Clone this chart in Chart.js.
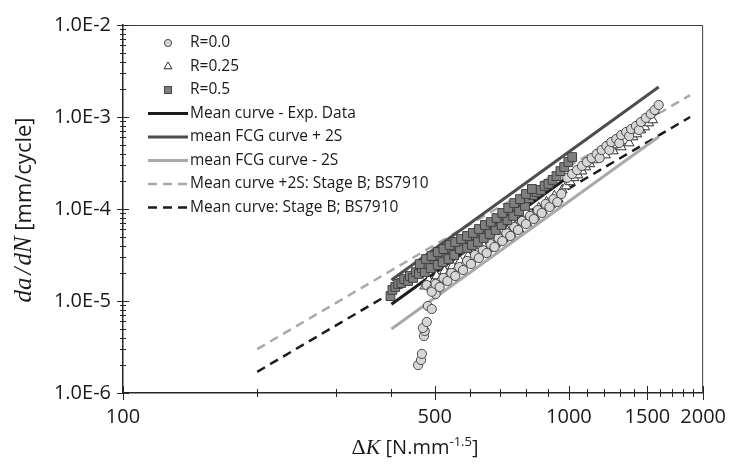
<!DOCTYPE html>
<html>
<head>
<meta charset="utf-8">
<script src="https://cdn.jsdelivr.net/npm/chart.js@4.4.1/dist/chart.umd.min.js"></script>
<style>
  html, body { margin: 0; padding: 0; background: #fff; }
  #wrap { width: 738px; height: 466px; }
</style>
</head>
<body>
<div id="wrap"><canvas id="fcg" width="738" height="466"></canvas></div>
<script>
// Crack growth rate da/dN (mm/cycle) against stress intensity range dK (N.mm^-1.5)

// R = 0.0 specimens
const r00DeltaK = [
  459, 466, 468, 473, 475, 470.5, 480, 482.6, 492.5, 480, 492.5, 502.5,
  492.5, 502.5, 513, 523, 534, 545, 556, 567.5, 579, 591, 603, 615.5, 628, 641, 654, 667.5,
  681, 695, 709, 724, 739, 754, 769, 785, 801, 818, 834, 851.5, 869, 887, 905, 923.5, 942, 961.6,
  991.5, 1017, 1043, 1070, 1097, 1125, 1154, 1172, 1184, 1214, 1232, 1245, 1277, 1297, 1310,
  1344, 1365, 1379, 1414, 1436, 1451, 1488, 1526, 1557, 1590
];
const r00Rate = [
  2.01e-6, 2.28e-6, 2.66e-6, 4.16e-6, 4.72e-6, 5.09e-6, 5.92e-6, 8.83e-6, 8.18e-6, 1.49e-5, 1.32e-5, 1.19e-5,
  1.26e-5, 1.53e-5, 1.42e-5, 1.78e-5, 1.65e-5, 2.02e-5, 1.87e-5, 2.34e-5, 2.17e-5, 2.72e-5, 2.52e-5, 3.16e-5, 2.93e-5, 3.58e-5, 3.32e-5, 4.16e-5,
  3.86e-5, 4.84e-5, 4.49e-5, 5.49e-5, 5.09e-5, 6.37e-5, 5.91e-5, 7.40e-5, 6.87e-5, 8.40e-5, 7.78e-5, 9.75e-5, 9.05e-5, 1.133e-4, 1.051e-4, 1.28e-4, 1.19e-4, 1.456e-4,
  2.18e-4, 2.40e-4, 2.65e-4, 2.94e-4, 3.24e-4, 3.58e-4, 3.96e-4, 3.58e-4, 4.38e-4, 4.84e-4, 4.38e-4, 5.35e-4, 5.76e-4, 5.21e-4, 6.37e-4,
  6.87e-4, 6.21e-4, 7.40e-4, 7.98e-4, 7.22e-4, 8.83e-4, 9.76e-4, 1.078e-3, 1.192e-3, 1.35e-3
];

// R = 0.25 specimens
const r025DeltaK = [
  475, 485, 495, 505, 515.5, 526, 537, 548, 559, 570, 582, 594, 606, 619, 631, 644, 657, 671, 685, 699,
  713, 728, 742.5, 758, 773, 789, 805, 822, 839, 856, 873, 891, 909.5, 928, 947, 966.5, 986, 1007, 1027, 1048,
  1070, 1091, 1114, 1136, 1160, 1184, 1208, 1232, 1258, 1284, 1310, 1337, 1365, 1393, 1421, 1451, 1480, 1511, 1542
];
const r025Rate = [
  1.45e-5, 1.69e-5, 1.57e-5, 1.87e-5, 1.73e-5, 2.12e-5, 1.97e-5, 2.40e-5, 2.22e-5, 2.72e-5, 2.52e-5, 3.08e-5, 2.86e-5, 3.49e-5, 3.24e-5, 3.96e-5, 3.67e-5, 4.49e-5, 4.16e-5, 5.09e-5,
  4.72e-5, 5.76e-5, 5.35e-5, 6.53e-5, 6.06e-5, 7.59e-5, 7.04e-5, 8.83e-5, 8.19e-5, 1.025e-4, 9.51e-5, 1.19e-4, 1.105e-4, 1.385e-4, 1.28e-4, 1.61e-4, 1.775e-4, 1.97e-4, 2.18e-4, 2.34e-4,
  2.58e-4, 2.86e-4, 3.09e-4, 3.41e-4, 3.67e-4, 4.06e-4, 3.86e-4, 4.49e-4, 4.27e-4, 4.96e-4, 4.72e-4, 5.48e-4, 5.21e-4, 6.06e-4, 6.53e-4, 7.22e-4, 7.78e-4, 8.60e-4, 9.28e-4
];

// R = 0.5 specimens
const r05DeltaK = [
  398, 402, 408, 414, 421, 427, 436, 440, 447, 454, 461, 468, 475, 483, 490, 497, 508, 513, 521, 529,
  537, 545, 553, 562, 570, 579, 591, 597, 606, 616, 625, 635, 644, 654, 664, 674, 685, 695, 706, 717,
  728, 739, 750, 762, 773, 785, 797, 814, 830, 847, 865, 882, 900, 919, 938, 957, 976, 997, 1017,
  463, 478, 492, 508, 523, 540, 556, 573, 591, 609, 628, 648, 668, 688, 709, 731, 754, 777, 801, 826
];
const r05Rate = [
  1.13e-5, 1.32e-5, 1.42e-5, 1.53e-5, 1.57e-5, 1.73e-5, 1.65e-5, 1.87e-5, 1.78e-5, 2.06e-5, 1.97e-5, 2.28e-5, 2.06e-5, 2.52e-5, 2.28e-5, 2.86e-5, 2.46e-5, 3.16e-5, 2.65e-5, 3.67e-5,
  2.86e-5, 3.77e-5, 3.16e-5, 4.06e-5, 3.67e-5, 4.49e-5, 3.77e-5, 4.84e-5, 4.06e-5, 5.22e-5, 4.38e-5, 5.76e-5, 4.84e-5, 6.37e-5, 5.35e-5, 7.04e-5, 5.91e-5, 7.78e-5, 6.70e-5, 8.61e-5,
  7.59e-5, 9.75e-5, 8.40e-5, 1.08e-4, 9.51e-5, 1.22e-4, 1.08e-4, 1.31e-4, 1.42e-4, 1.53e-4, 1.61e-4, 1.78e-4, 1.87e-4, 2.07e-4, 2.28e-4, 2.58e-4, 2.86e-4, 3.24e-4, 3.67e-4,
  2.52e-5, 2.86e-5, 3.08e-5, 3.41e-5, 3.67e-5, 4.06e-5, 4.38e-5, 4.72e-5, 5.09e-5, 5.49e-5, 6.06e-5, 6.70e-5, 7.22e-5, 7.98e-5, 9.05e-5, 1.025e-4, 1.16e-4, 1.28e-4, 1.456e-4, 1.65e-4
];

// Fitted Paris-law lines (end points)
const meanExpK = [400, 1590];
const meanExpRate = [9.2e-6, 1.14e-3];
const plus2SK = [400, 1590];
const plus2SRate = [1.69e-5, 2.12e-3];
const minus2SK = [400, 1590];
const minus2SRate = [4.97e-6, 6.1e-4];
const bsPlus2SK = [200, 1870];
const bsPlus2SRate = [3.0e-6, 1.73e-3];
const bsMeanK = [200, 1870];
const bsMeanRate = [1.7e-6, 1.0e-3];

// Axis ticks
const xMajorTicks = [100, 500, 1000, 1500, 2000];
const xTickLabels = ['100', '500', '1000', '1500', '2000'];
const yMajorTicks = [1e-6, 1e-5, 1e-4, 1e-3, 1e-2];
const yTickLabels = ['1.0E-6', '1.0E-5', '1.0E-4', '1.0E-3', '1.0E-2'];

const pts = (xs, ys) => xs.map((v, i) => ({ x: v, y: ys[i] }));

// every 100 from 100 to 2000, labels only on the majors
const xTicks = [];
for (let v = 100; v <= 2000; v += 100) xTicks.push(v);
// 1..9 in each decade
const yTicks = [];
yMajorTicks.forEach((d, i) => {
  yTicks.push(d);
  if (i < yMajorTicks.length - 1) for (let m = 2; m <= 9; m++) yTicks.push(m * d);
});

const TXT = '#1a1a1a';
const SANS = '"Open Sans", "Noto Sans", sans-serif';
const SERIF = '"Liberation Serif", "DejaVu Serif", serif';

const lineSet = (label, xs, ys, color, width, dash, order) => ({
  label, data: pts(xs, ys), showLine: true, pointRadius: 0,
  borderColor: color, borderWidth: width, borderDash: dash, order
});

// frame on top / right of the plot area
const frame = {
  id: 'frame',
  beforeDatasetsDraw(chart) {
    const { ctx, chartArea: a } = chart;
    ctx.save();
    ctx.strokeStyle = '#3a3a3a';
    ctx.lineWidth = 1;
    ctx.beginPath();
    ctx.moveTo(a.left, a.top + 0.5);
    ctx.lineTo(a.right - 0.5, a.top + 0.5);
    ctx.lineTo(a.right - 0.5, a.bottom);
    ctx.stroke();
    ctx.restore();
  }
};

// tick marks crossing both axes
const tickMarks = {
  id: 'tickMarks',
  afterDatasetsDraw(chart) {
    const { ctx, chartArea: a, scales: { x, y } } = chart;
    ctx.save();
    ctx.strokeStyle = '#262626';
    ctx.lineWidth = 1;
    ctx.beginPath();
    x.ticks.forEach(t => {
      const px = Math.round(x.getPixelForValue(t.value)) + 0.5;
      const len = xMajorTicks.includes(t.value) ? 7 : 4;
      ctx.moveTo(px, a.bottom - len);
      ctx.lineTo(px, a.bottom + len);
    });
    y.ticks.forEach(t => {
      const py = Math.round(y.getPixelForValue(t.value)) + 0.5;
      const len = yMajorTicks.includes(t.value) ? 6 : 3;
      ctx.moveTo(a.left - len, py);
      ctx.lineTo(a.left + len, py);
    });
    ctx.stroke();
    ctx.restore();
  }
};

// legend in the upper left corner of the plot
const legendMarkerRadius = { circle: 3.6, triangle: 4.6, rect: 5 };
const legendBox = {
  id: 'legendBox',
  afterDraw(chart) {
    const ctx = chart.ctx;
    const top = 43, step = 23.5, mx = 168, lx0 = 148, lx1 = 188, tx = 190;
    ctx.save();
    ctx.font = '15.5px ' + SANS;
    ctx.textBaseline = 'middle';
    chart.data.datasets.forEach((ds, i) => {
      const yy = top + i * step;
      if (ds.showLine) {
        ctx.strokeStyle = ds.borderColor;
        ctx.lineWidth = ds.borderWidth;
        ctx.setLineDash(ds.borderDash || []);
        ctx.beginPath();
        ctx.moveTo(lx0, yy);
        ctx.lineTo(lx1, yy);
        ctx.stroke();
        ctx.setLineDash([]);
      } else {
        ctx.fillStyle = ds.backgroundColor;
        ctx.strokeStyle = ds.borderColor;
        ctx.lineWidth = 1;
        Chart.helpers.drawPoint(ctx, {
          pointStyle: ds.pointStyle, rotation: 0,
          radius: legendMarkerRadius[ds.pointStyle], borderWidth: 1
        }, mx, yy);
      }
      ctx.fillStyle = TXT;
      ctx.fillText(ds.label, tx, yy);
    });
    ctx.restore();
  }
};

// draws a run of text pieces with their own fonts, centred on 0
function drawRuns(ctx, runs) {
  let total = 0;
  runs.forEach(r => { ctx.font = r.font; r.w = ctx.measureText(r.text).width; total += r.w + (r.gap || 0); });
  let x = -total / 2;
  runs.forEach(r => {
    ctx.font = r.font;
    ctx.fillText(r.text, x, r.rise ? -r.rise : 0);
    x += r.w + (r.gap || 0);
  });
}

const axisTitles = {
  id: 'axisTitles',
  afterDraw(chart) {
    const ctx = chart.ctx;
    ctx.save();
    ctx.fillStyle = TXT;
    ctx.textBaseline = 'alphabetic';
    ctx.textAlign = 'left';

    // y title, reading upwards
    ctx.save();
    ctx.translate(31, 210);
    ctx.rotate(-Math.PI / 2);
    drawRuns(ctx, [
      { text: 'da', font: 'italic 25px ' + SERIF, gap: 3 },
      { text: '/', font: 'italic 25px ' + SERIF, gap: 2 },
      { text: 'dN', font: 'italic 25px ' + SERIF, gap: 0 },
      { text: ' [mm/cycle]', font: '22px ' + SANS }
    ]);
    ctx.restore();

    // x title
    ctx.save();
    ctx.translate(415, 454);
    drawRuns(ctx, [
      { text: '\u0394', font: '22px ' + SERIF },
      { text: 'K', font: 'italic 22px ' + SERIF },
      { text: ' [N.mm', font: '20px ' + SANS },
      { text: '-1.5', font: '13px ' + SANS, rise: 8 },
      { text: ']', font: '20px ' + SANS }
    ]);
    ctx.restore();
    ctx.restore();
  }
};

new Chart(document.getElementById('fcg'), {
  type: 'scatter',
  data: {
    datasets: [
      {
        label: 'R=0.0', data: pts(r00DeltaK, r00Rate), pointStyle: 'circle',
        pointRadius: 4.6, backgroundColor: '#d6d6d6', borderColor: '#4a4a4a', borderWidth: 1, order: 2
      },
      {
        label: 'R=0.25', data: pts(r025DeltaK, r025Rate), pointStyle: 'triangle',
        pointRadius: 5.6, backgroundColor: '#ffffff', borderColor: '#2e2e2e', borderWidth: 1, order: 3
      },
      {
        label: 'R=0.5', data: pts(r05DeltaK, r05Rate), pointStyle: 'rect',
        pointRadius: 6.2, backgroundColor: '#7f7f7f', borderColor: '#404040', borderWidth: 1, order: 1
      },
      lineSet('Mean curve - Exp. Data', meanExpK, meanExpRate, '#1c1c1c', 3, [], 10),
      lineSet('mean FCG curve + 2S', plus2SK, plus2SRate, '#4d4d4d', 3, [], 10),
      lineSet('mean FCG curve - 2S', minus2SK, minus2SRate, '#a9a9a9', 3, [], 10),
      lineSet('Mean curve +2S: Stage B; BS7910', bsPlus2SK, bsPlus2SRate, '#a9a9a9', 2.5, [9, 6], 10),
      lineSet('Mean curve: Stage B; BS7910', bsMeanK, bsMeanRate, '#1c1c1c', 2.5, [9, 6], 10)
    ]
  },
  options: {
    responsive: false,
    animation: false,
    devicePixelRatio: 1,
    layout: { padding: { left: 0, top: 25, right: 25, bottom: 0 } },
    plugins: { legend: { display: false }, tooltip: { enabled: false } },
    scales: {
      x: {
        type: 'logarithmic', min: 100, max: 2000,
        afterBuildTicks: s => { s.ticks = xTicks.map(v => ({ value: v })); },
        afterFit: s => { s.height = 73; },
        grid: { display: false, drawTicks: false },
        border: { display: true, color: '#262626', width: 1.5 },
        ticks: {
          autoSkip: false, maxRotation: 0, minRotation: 0, padding: 12,
          color: TXT, font: { family: SANS, size: 20 },
          callback: v => { const i = xMajorTicks.indexOf(v); return i >= 0 ? xTickLabels[i] : ''; }
        }
      },
      y: {
        type: 'logarithmic', min: 1e-6, max: 1e-2,
        afterBuildTicks: s => { s.ticks = yTicks.map(v => ({ value: v })); },
        afterFit: s => { s.width = 123; },
        grid: { display: false, drawTicks: false },
        border: { display: true, color: '#262626', width: 1.5 },
        ticks: {
          autoSkip: false, padding: 12,
          color: TXT, font: { family: SANS, size: 20 },
          callback: v => { const i = yMajorTicks.indexOf(v); return i >= 0 ? yTickLabels[i] : ''; }
        }
      }
    }
  },
  plugins: [frame, tickMarks, legendBox, axisTitles]
});
</script>
</body>
</html>
